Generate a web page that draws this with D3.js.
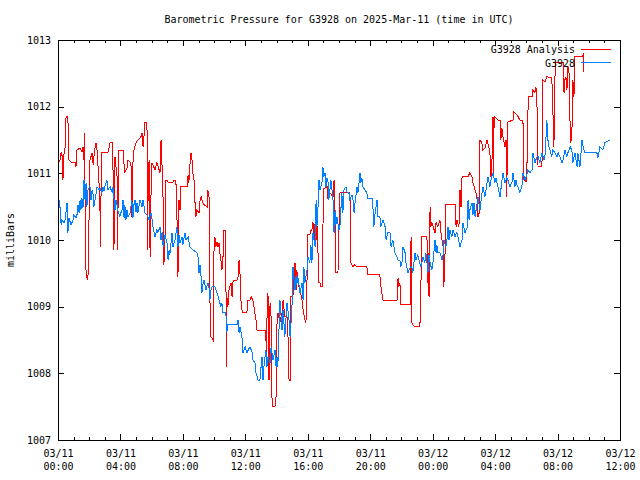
<!DOCTYPE html>
<html><head><meta charset="utf-8">
<script src="https://cdn.jsdelivr.net/npm/d3@7"></script>
<style>
body{margin:0;background:#fff;}
svg{display:block;background:#fff;}
text{font-family:"DejaVu Sans Mono","Liberation Mono",monospace;font-size:10px;fill:#000;}
</style></head><body>
<svg id="chart" width="640" height="480"></svg>
<script>
const chartTitle = "Barometric Pressure for G3928 on 2025-Mar-11 (time in UTC)";
const yAxisLabel = "milliBars";
const seriesNames = ["G3928 Analysis", "G3928"];
const seriesColors = ["#ff0000", "#0080ff"];
const xTickMinutes = [0,240,480,720,960,1200,1440,1680,1920,2160];
const xTickDates = ["03/11","03/11","03/11","03/11","03/11","03/11","03/12","03/12","03/12","03/12"];
const xTickTimes = ["00:00","04:00","08:00","12:00","16:00","20:00","00:00","04:00","08:00","12:00"];
const yTickValues = [1007,1008,1009,1010,1011,1012,1013];

// [minutes after 2025-03-11 00:00 UTC, millibars]
const analysis = [[4,1011.17],[8,1011.20],[12,1011.32],[15,1011.31],[19,1010.90],[23,1011.28],[27,1011.38],[31,1011.85],[38,1011.85],[40,1011.46],[42,1011.20],[50,1011.17],[65,1011.17],[69,1011.10],[73,1011.35],[85,1011.38],[92,1011.32],[96,1011.40],[100,1011.20],[102,1011.61],[104,1010.60],[108,1009.45],[115,1009.40],[119,1010.20],[121,1011.10],[123,1011.20],[131,1011.31],[135,1011.13],[142,1011.38],[146,1011.46],[150,1011.35],[154,1011.10],[158,1010.83],[161,1010.60],[163,1009.90],[165,1010.60],[169,1011.31],[192,1011.31],[200,1011.46],[208,1011.46],[211,1011.20],[215,1009.85],[219,1011.25],[227,1010.95],[229,1009.85],[231,1010.60],[234,1011.35],[250,1011.35],[254,1011.13],[257,1011.02],[265,1011.08],[269,1011.20],[277,1011.17],[281,1011.10],[284,1010.35],[288,1011.16],[292,1011.35],[300,1011.46],[307,1011.50],[319,1011.55],[323,1011.61],[327,1011.40],[331,1011.58],[334,1011.77],[342,1011.77],[344,1009.85],[346,1010.60],[350,1011.20],[354,1009.75],[357,1010.60],[361,1011.16],[373,1011.05],[380,1011.16],[392,1011.01],[396,1011.50],[400,1011.10],[404,1010.60],[407,1009.63],[411,1010.00],[415,1010.90],[419,1010.90],[423,1010.87],[442,1010.87],[446,1010.90],[453,1010.90],[457,1010.41],[461,1009.45],[465,1010.60],[469,1010.45],[471,1010.80],[496,1010.80],[500,1010.98],[503,1010.86],[507,1011.13],[511,1011.31],[515,1011.20],[519,1010.98],[523,1010.90],[526,1010.60],[530,1010.35],[534,1010.45],[542,1010.41],[546,1010.60],[550,1010.65],[557,1010.56],[561,1010.53],[573,1010.50],[576,1010.75],[580,1010.65],[582,1010.60],[584,1009.10],[588,1008.55],[596,1008.50],[598,1009.10],[600,1010.00],[603,1010.05],[607,1009.90],[611,1009.97],[615,1009.90],[619,1009.96],[623,1009.78],[626,1009.70],[630,1009.55],[634,1009.70],[636,1010.15],[642,1010.15],[646,1009.15],[648,1008.10],[649,1009.15],[653,1009.00],[657,1009.25],[665,1009.36],[669,1009.15],[673,1009.40],[688,1009.40],[692,1009.45],[696,1009.70],[699,1009.55],[703,1009.10],[707,1008.95],[711,1008.91],[726,1008.91],[730,1009.10],[738,1009.10],[742,1009.15],[749,1009.10],[753,1009.00],[761,1008.80],[765,1008.65],[796,1008.65],[799,1008.55],[801,1008.31],[803,1008.80],[807,1009.21],[811,1007.90],[815,1009.06],[819,1008.85],[822,1007.65],[826,1007.50],[834,1007.50],[838,1007.65],[842,1008.80],[845,1008.91],[853,1008.76],[861,1008.91],[865,1009.10],[869,1008.95],[872,1008.85],[880,1008.85],[884,1008.55],[888,1007.90],[892,1007.90],[895,1009.15],[903,1009.15],[911,1009.66],[915,1009.25],[918,1009.55],[922,1009.36],[930,1009.25],[938,1009.10],[942,1008.95],[949,1008.80],[953,1008.76],[957,1009.36],[959,1010.08],[968,1010.08],[972,1010.15],[976,1010.15],[980,1010.27],[984,1010.00],[988,1010.26],[992,1010.00],[995,1010.26],[999,1009.85],[1003,1009.36],[1007,1009.36],[1011,1009.30],[1015,1009.30],[1018,1010.03],[1020,1010.78],[1026,1010.78],[1034,1010.80],[1038,1010.60],[1045,1010.71],[1057,1010.65],[1061,1010.90],[1065,1010.27],[1068,1009.51],[1076,1009.51],[1080,1010.15],[1084,1010.72],[1122,1010.72],[1126,1009.66],[1134,1009.60],[1141,1009.63],[1149,1009.60],[1187,1009.60],[1191,1009.48],[1237,1009.48],[1241,1009.30],[1249,1009.10],[1303,1009.10],[1307,1009.43],[1310,1009.30],[1314,1009.36],[1318,1009.03],[1353,1009.03],[1357,1010.05],[1359,1008.76],[1364,1008.73],[1372,1008.70],[1391,1008.70],[1395,1009.36],[1399,1010.05],[1418,1010.05],[1422,1009.36],[1424,1009.81],[1426,1009.15],[1430,1010.50],[1433,1010.20],[1437,1010.26],[1449,1010.11],[1453,1010.26],[1460,1010.20],[1468,1010.30],[1472,1010.11],[1476,1010.00],[1480,1009.90],[1483,1009.30],[1487,1009.70],[1491,1010.53],[1526,1010.53],[1530,1010.20],[1533,1010.30],[1541,1010.20],[1545,1010.75],[1549,1010.50],[1553,1010.95],[1576,1010.95],[1583,1011.01],[1591,1010.95],[1595,1010.86],[1603,1010.75],[1610,1010.65],[1614,1010.35],[1618,1010.35],[1622,1011.50],[1629,1011.46],[1633,1011.35],[1641,1011.38],[1649,1011.50],[1652,1011.46],[1660,1011.31],[1664,1010.95],[1668,1011.20],[1672,1011.85],[1674,1010.95],[1676,1011.76],[1679,1011.85],[1691,1011.80],[1699,1011.80],[1702,1011.50],[1706,1011.68],[1710,1011.55],[1718,1011.40],[1722,1011.50],[1725,1010.65],[1727,1011.50],[1729,1011.77],[1749,1011.80],[1752,1011.92],[1764,1011.88],[1775,1011.80],[1787,1011.80],[1791,1010.90],[1802,1010.87],[1804,1011.80],[1810,1012.15],[1822,1012.15],[1825,1012.25],[1833,1012.21],[1837,1012.30],[1841,1012.00],[1845,1011.10],[1860,1011.10],[1864,1012.40],[1872,1012.37],[1879,1012.45],[1898,1012.43],[1902,1011.95],[1906,1011.40],[1910,1012.45],[1914,1012.66],[1937,1012.67],[1941,1012.66],[1945,1012.21],[1948,1012.40],[1952,1012.45],[1956,1012.25],[1960,1012.60],[1964,1012.51],[1968,1011.76],[1971,1011.46],[1975,1011.58],[1979,1012.40],[1983,1012.15],[1987,1012.75],[2014,1012.75],[2018,1012.78],[2021,1012.52]];

const station = [[4,1010.60],[8,1010.48],[12,1010.23],[15,1010.30],[23,1010.26],[27,1010.30],[35,1010.56],[37,1010.38],[38,1010.11],[42,1010.33],[50,1010.23],[58,1010.30],[61,1010.38],[69,1010.33],[73,1010.38],[77,1010.53],[81,1010.41],[85,1010.60],[88,1010.45],[92,1010.63],[96,1010.48],[100,1010.90],[104,1010.60],[108,1010.86],[111,1010.50],[115,1010.75],[123,1010.80],[127,1010.60],[131,1010.75],[135,1010.68],[138,1010.50],[146,1010.68],[150,1010.80],[158,1010.75],[161,1010.78],[169,1010.71],[173,1010.80],[177,1010.74],[181,1010.81],[188,1010.90],[192,1010.75],[200,1010.80],[208,1010.71],[211,1010.80],[215,1010.63],[219,1010.45],[223,1010.60],[227,1010.53],[231,1010.42],[238,1010.35],[242,1010.41],[246,1010.45],[250,1010.60],[254,1010.33],[257,1010.53],[261,1010.30],[265,1010.45],[269,1010.35],[277,1010.41],[284,1010.60],[288,1010.33],[292,1010.53],[296,1010.60],[300,1010.42],[304,1010.56],[307,1010.41],[315,1010.60],[323,1010.50],[327,1010.60],[334,1010.41],[342,1010.38],[350,1010.30],[357,1010.41],[361,1010.33],[365,1010.20],[373,1010.05],[380,1010.15],[384,1010.11],[392,1010.20],[396,1010.00],[400,1010.12],[404,1009.90],[411,1010.08],[419,1009.96],[423,1009.70],[427,1009.85],[430,1009.78],[438,1010.11],[442,1009.90],[450,1010.00],[457,1010.20],[461,1009.90],[465,1010.08],[469,1009.96],[477,1010.05],[480,1009.93],[488,1010.11],[492,1010.00],[500,1010.05],[507,1009.90],[519,1009.85],[534,1009.81],[538,1009.75],[542,1009.51],[546,1009.63],[550,1009.45],[553,1009.21],[557,1009.33],[561,1009.40],[569,1009.25],[576,1009.36],[580,1009.30],[584,1009.10],[588,1009.25],[592,1009.30],[603,1009.30],[611,1009.21],[619,1009.10],[626,1009.00],[630,1009.06],[634,1008.91],[642,1008.91],[646,1008.85],[649,1008.62],[653,1008.73],[661,1008.73],[688,1008.73],[692,1008.80],[696,1008.61],[699,1008.70],[707,1008.55],[711,1008.31],[719,1008.40],[726,1008.31],[738,1008.40],[746,1008.31],[749,1008.20],[757,1008.16],[761,1008.01],[769,1007.90],[776,1007.90],[784,1008.25],[788,1007.90],[792,1008.13],[799,1008.35],[803,1008.10],[807,1008.25],[815,1008.16],[819,1008.40],[826,1008.20],[834,1008.35],[838,1008.10],[842,1008.25],[845,1008.10],[853,1009.10],[861,1008.65],[865,1008.95],[872,1008.55],[880,1009.06],[888,1008.80],[892,1008.55],[899,1008.95],[903,1009.60],[911,1009.25],[915,1009.48],[918,1009.33],[922,1009.45],[930,1009.21],[938,1009.36],[942,1009.10],[945,1009.60],[949,1009.36],[957,1009.55],[961,1009.75],[968,1009.66],[972,1009.93],[976,1009.66],[980,1010.11],[988,1009.90],[992,1010.60],[995,1010.20],[999,1010.45],[1003,1010.90],[1007,1010.75],[1015,1010.87],[1018,1011.10],[1022,1010.95],[1026,1011.01],[1030,1010.80],[1034,1010.93],[1038,1010.86],[1041,1010.60],[1045,1010.75],[1049,1010.90],[1053,1010.75],[1057,1010.60],[1061,1010.11],[1065,1010.45],[1068,1010.23],[1072,1010.35],[1080,1010.15],[1084,1010.23],[1091,1010.71],[1095,1010.41],[1099,1010.75],[1107,1010.80],[1111,1010.71],[1118,1010.71],[1122,1010.60],[1130,1010.68],[1134,1010.60],[1138,1010.41],[1141,1010.53],[1149,1010.80],[1153,1010.71],[1161,1011.01],[1164,1010.86],[1168,1010.93],[1172,1010.80],[1180,1010.75],[1187,1010.71],[1191,1010.62],[1207,1010.62],[1211,1010.45],[1214,1010.20],[1218,1010.38],[1226,1010.60],[1230,1010.35],[1237,1010.35],[1241,1010.20],[1249,1010.30],[1257,1010.20],[1261,1010.00],[1268,1010.11],[1276,1010.11],[1280,1009.90],[1287,1010.00],[1295,1009.81],[1303,1009.75],[1307,1009.70],[1314,1009.70],[1318,1009.60],[1322,1009.66],[1326,1009.90],[1334,1009.81],[1337,1009.66],[1345,1009.51],[1353,1009.58],[1360,1009.60],[1364,1009.51],[1372,1009.81],[1376,1009.70],[1383,1009.78],[1387,1009.70],[1395,1009.60],[1399,1009.67],[1403,1009.75],[1410,1009.66],[1414,1009.81],[1422,1009.51],[1426,1009.78],[1430,1009.66],[1437,1009.55],[1441,1009.66],[1449,1010.00],[1453,1009.81],[1456,1009.93],[1460,1009.81],[1468,1009.81],[1476,1009.70],[1480,1009.78],[1483,1010.00],[1491,1009.90],[1495,1010.00],[1499,1010.20],[1503,1010.00],[1506,1010.15],[1514,1010.05],[1518,1010.15],[1526,1010.05],[1533,1010.12],[1537,1010.05],[1545,1009.90],[1553,1010.00],[1556,1010.26],[1564,1010.11],[1572,1010.18],[1576,1010.60],[1580,1010.30],[1583,1010.45],[1591,1010.56],[1595,1010.38],[1599,1010.56],[1603,1010.35],[1610,1010.53],[1614,1010.65],[1622,1010.45],[1626,1010.60],[1633,1010.80],[1641,1010.65],[1645,1010.75],[1652,1010.95],[1660,1010.80],[1664,1010.90],[1672,1011.01],[1679,1010.86],[1683,1010.93],[1691,1010.80],[1699,1010.65],[1702,1010.75],[1710,1011.01],[1718,1010.86],[1725,1010.93],[1729,1010.90],[1737,1010.80],[1745,1010.87],[1749,1011.01],[1756,1010.80],[1760,1010.90],[1764,1010.83],[1768,1010.80],[1775,1010.71],[1783,1010.80],[1787,1011.01],[1795,1010.90],[1802,1010.98],[1806,1011.05],[1814,1011.01],[1822,1011.05],[1825,1011.31],[1833,1011.16],[1841,1011.25],[1845,1011.25],[1852,1011.16],[1860,1011.31],[1868,1011.20],[1872,1011.28],[1879,1011.80],[1883,1011.50],[1887,1011.40],[1891,1011.35],[1898,1011.25],[1902,1011.35],[1910,1011.31],[1918,1011.25],[1922,1011.31],[1929,1011.25],[1937,1011.16],[1941,1011.20],[1948,1011.35],[1956,1011.25],[1960,1011.31],[1968,1011.40],[1975,1011.35],[1979,1011.16],[1987,1011.31],[1995,1011.10],[1998,1011.31],[2006,1011.10],[2014,1011.50],[2018,1011.40],[2025,1011.31],[2071,1011.31],[2075,1011.23],[2083,1011.40],[2094,1011.35],[2102,1011.46],[2121,1011.50]];

const svg = d3.select("#chart");
const plotLeft = 58, plotRight = 620, plotTop = 40, plotBottom = 440;
const x = d3.scaleLinear().domain([0, 2160]).range([plotLeft, plotRight]);
const y = d3.scaleLinear().domain([1007, 1013]).range([plotBottom, plotTop]);
const minorMinutes = d3.range(0, 2161, 60).filter(m => m % 240 !== 0);

function styleAxis(g) {
  g.select(".domain").remove();
  g.selectAll("line").attr("stroke", "#000").attr("shape-rendering", "crispEdges");
  g.selectAll("text").attr("fill", "#000").style("font-family", '"DejaVu Sans Mono","Liberation Mono",monospace').style("font-size", "10px");
}

// bottom major
const gb = svg.append("g").attr("transform", `translate(0,${plotBottom})`)
  .call(d3.axisBottom(x).tickValues(xTickMinutes).tickSize(-6).tickFormat((d, i) => xTickDates[i]));
styleAxis(gb);
gb.selectAll(".tick text").each(function(d, i) {
  const t = d3.select(this);
  t.text(null).attr("dy", null).attr("y", null);
  t.append("tspan").attr("x", 0).attr("y", 17).text(xTickDates[i]);
  t.append("tspan").attr("x", 0).attr("y", 30).text(xTickTimes[i]);
});
// bottom minor
styleAxis(svg.append("g").attr("transform", `translate(0,${plotBottom})`)
  .call(d3.axisBottom(x).tickValues(minorMinutes).tickSize(-3).tickFormat("")));
// top
styleAxis(svg.append("g").attr("transform", `translate(0,${plotTop})`)
  .call(d3.axisTop(x).tickValues(xTickMinutes).tickSize(-6).tickFormat("")));
styleAxis(svg.append("g").attr("transform", `translate(0,${plotTop})`)
  .call(d3.axisTop(x).tickValues(minorMinutes).tickSize(-3).tickFormat("")));
// left
styleAxis(svg.append("g").attr("transform", `translate(${plotLeft},0)`)
  .call(d3.axisLeft(y).tickValues(yTickValues).tickSize(-6).tickPadding(7).tickFormat(d3.format("d"))));
// right
styleAxis(svg.append("g").attr("transform", `translate(${plotRight},0)`)
  .call(d3.axisRight(y).tickValues(yTickValues).tickSize(-6).tickFormat("")));

// frame
svg.append("rect").attr("x", plotLeft).attr("y", plotTop).attr("width", plotRight - plotLeft).attr("height", plotBottom - plotTop)
  .attr("fill", "none").attr("stroke", "#000").attr("shape-rendering", "crispEdges");

// lines
const line = d3.line().x(d => x(d[0])).y(d => y(d[1]));
svg.append("path").datum(analysis).attr("d", line).attr("fill", "none")
  .attr("stroke", seriesColors[0]).attr("stroke-width", 1).attr("shape-rendering", "crispEdges");
svg.append("path").datum(station).attr("d", line).attr("fill", "none")
  .attr("stroke", seriesColors[1]).attr("stroke-width", 1).attr("shape-rendering", "crispEdges");

// title
svg.append("text").attr("x", (plotLeft + plotRight) / 2).attr("y", 23).attr("text-anchor", "middle").text(chartTitle);
// y label
svg.append("text").attr("transform", "translate(14,240) rotate(-90)").attr("text-anchor", "middle").text(yAxisLabel);

// legend
const legend = svg.append("g");
seriesNames.forEach((name, i) => {
  const ly = 49 + i * 13.5;
  legend.append("text").attr("x", 575).attr("y", ly + 4).attr("text-anchor", "end").text(name);
  legend.append("line").attr("x1", 581).attr("x2", 611).attr("y1", ly).attr("y2", ly)
    .attr("stroke", seriesColors[i]).attr("shape-rendering", "crispEdges");
});
</script>
</body></html>
